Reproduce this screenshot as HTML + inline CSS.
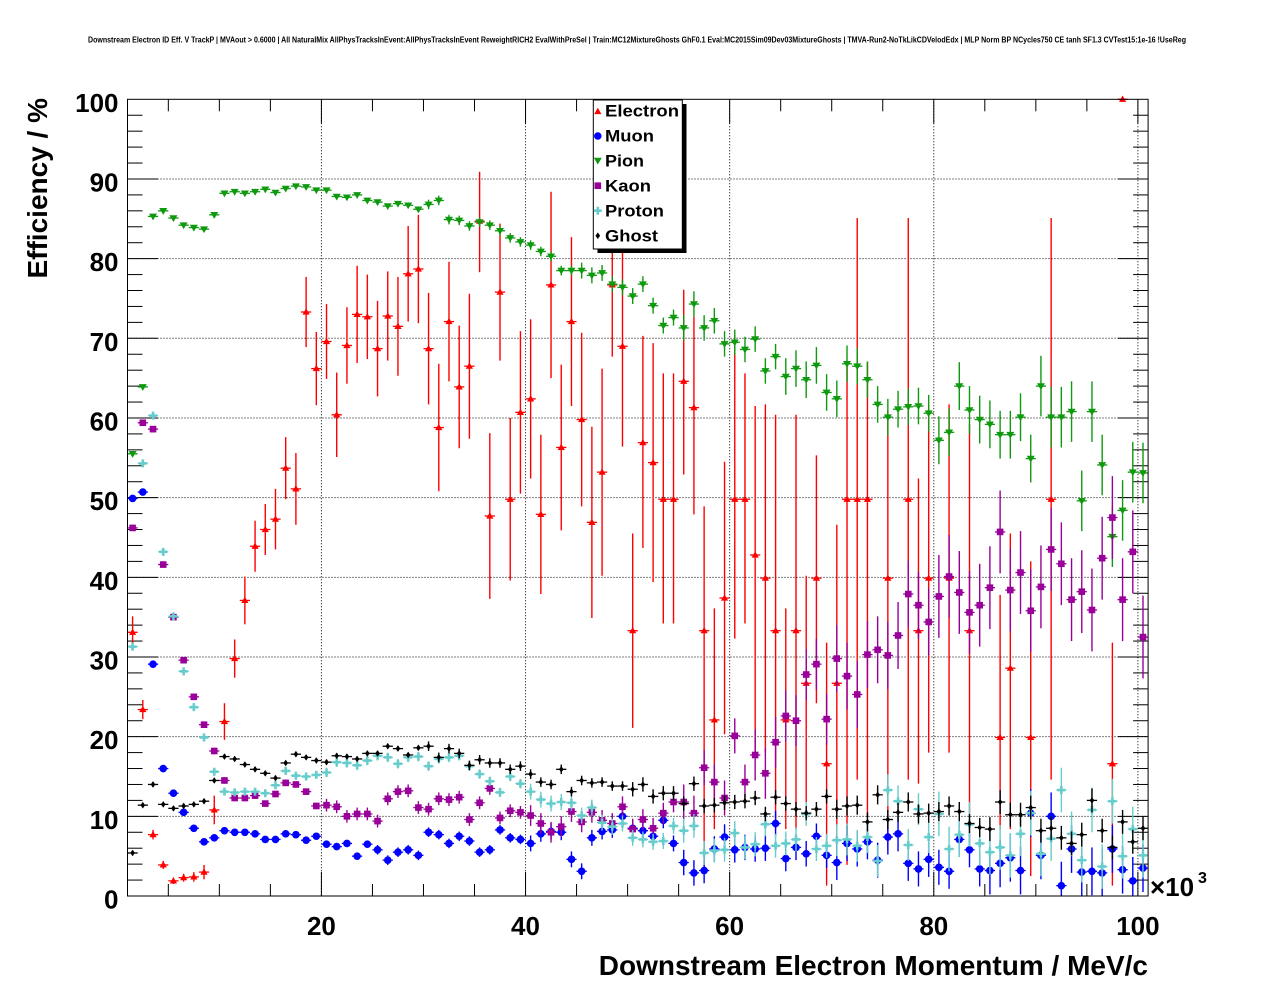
<!DOCTYPE html>
<html>
<head>
<meta charset="utf-8">
<style>
  html,body{margin:0;padding:0;background:#fff;}
  body{width:1276px;height:996px;overflow:hidden;}
  svg{display:block;}
  text{font-family:"Liberation Sans",Arial,Helvetica,sans-serif;font-weight:bold;fill:#000;}
</style>
</head>
<body>
<svg id="c" width="1276" height="996" viewBox="0 0 1276 996" xmlns="http://www.w3.org/2000/svg">
  <rect x="0" y="0" width="1276" height="996" fill="#fff"/>
  <text x="88" y="42.5" font-size="8" textLength="1098" lengthAdjust="spacingAndGlyphs">Downstream Electron ID Eff. V TrackP | MVAout &gt; 0.6000 | All NaturalMix AllPhysTracksInEvent:AllPhysTracksInEvent ReweightRICH2 EvalWithPreSel | Train:MC12MixtureGhosts GhF0.1 Eval:MC2015Sim09Dev03MixtureGhosts | TMVA-Run2-NoTkLikCDVelodEdx | MLP Norm BP NCycles750 CE tanh SF1.3 CVTest15:1e-16 !UseReg</text>

  <g id="grid" stroke="#000" stroke-width="1" stroke-dasharray="1 2" fill="none"></g>
  <g id="ticks" stroke="#000" stroke-width="1" fill="none"></g>
  <g id="data"></g>
  <rect x="127.5" y="99.3" width="1020.6" height="796.7" fill="none" stroke="#000" stroke-width="1"/>

  <!-- Y tick labels -->
  <g font-size="26" text-anchor="end">
    <text x="118.5" y="908.5">0</text>
    <text x="118.5" y="828.8">10</text>
    <text x="118.5" y="749.2">20</text>
    <text x="118.5" y="669.5">30</text>
    <text x="118.5" y="589.8">40</text>
    <text x="118.5" y="510.2">50</text>
    <text x="118.5" y="430.5">60</text>
    <text x="118.5" y="350.8">70</text>
    <text x="118.5" y="271.1">80</text>
    <text x="118.5" y="191.5">90</text>
    <text x="118.5" y="111.8">100</text>
  </g>
  <!-- X tick labels -->
  <g font-size="26" text-anchor="middle">
    <text x="321.4" y="935">20</text>
    <text x="525.5" y="935">40</text>
    <text x="729.6" y="935">60</text>
    <text x="933.8" y="935">80</text>
    <text x="1137.9" y="935">100</text>
  </g>
  <text x="1150" y="896" font-size="26">×10</text>
  <text x="1198" y="883" font-size="16">3</text>

  <text x="1148" y="975" font-size="28" text-anchor="end">Downstream Electron Momentum / MeV/c</text>
  <text transform="translate(47,98) rotate(-90)" font-size="28" text-anchor="end">Efficiency / %</text>

  <!-- Legend -->
  <rect x="597.5" y="104" width="89" height="149" fill="#000"/>
  <rect x="593.3" y="100" width="89" height="149" fill="#fff" stroke="#000" stroke-width="1"/>
  <g id="legmk"></g>
  <g font-size="17">
    <text x="605" y="116.7" textLength="74" lengthAdjust="spacingAndGlyphs">Electron</text>
    <text x="605" y="141.7" textLength="49" lengthAdjust="spacingAndGlyphs">Muon</text>
    <text x="605" y="166.7" textLength="39" lengthAdjust="spacingAndGlyphs">Pion</text>
    <text x="605" y="191.7" textLength="46" lengthAdjust="spacingAndGlyphs">Kaon</text>
    <text x="605" y="216.7" textLength="59" lengthAdjust="spacingAndGlyphs">Proton</text>
    <text x="605" y="241.7" textLength="53" lengthAdjust="spacingAndGlyphs">Ghost</text>
  </g>
</svg>
<script>
(function(){
  var X=function(v){return 127.5+(v-1)*10.206;};
  var Y=function(v){return 896-v*7.967;};
  var i,s;
  // grid
  s='';
  for(i=10;i<=90;i+=10){s+='<line x1="127.5" y1="'+Y(i)+'" x2="1148.1" y2="'+Y(i)+'"/>';}
  for(i=20;i<=100;i+=20){s+='<line x1="'+X(i)+'" y1="99.3" x2="'+X(i)+'" y2="896"/>';}
  document.getElementById('grid').innerHTML=s;
  // ticks
  s='';
  for(i=2;i<100;i+=2){var L=(i%10===0)?30:15;var y=Y(i);
    s+='<line x1="127.5" y1="'+y+'" x2="'+(127.5+L)+'" y2="'+y+'"/>';
    s+='<line x1="'+(1148.1-L)+'" y1="'+y+'" x2="1148.1" y2="'+y+'"/>';}
  for(i=5;i<=100;i+=5){var L2=(i%20===0)?24:12;var x=X(i);
    s+='<line x1="'+x+'" y1="896" x2="'+x+'" y2="'+(896-L2)+'"/>';
    s+='<line x1="'+x+'" y1="99.3" x2="'+x+'" y2="'+(99.3+L2)+'"/>';}
  document.getElementById('ticks').innerHTML=s;

  function mk(type,x,y,c){
    switch(type){
      case 'tu': return '<path d="M'+(x-3.6)+','+(y+2.6)+'L'+(x+3.6)+','+(y+2.6)+'L'+x+','+(y-3.8)+'Z" fill="'+c+'"/>';
      case 'td': return '<path d="M'+(x-4)+','+(y-2.8)+'L'+(x+4)+','+(y-2.8)+'L'+x+','+(y+4)+'Z" fill="'+c+'"/>';
      case 'ci': return '<circle cx="'+x+'" cy="'+y+'" r="3.8" fill="'+c+'"/>';
      case 'sq': return '<rect x="'+(x-3.3)+'" y="'+(y-3.3)+'" width="6.6" height="6.6" fill="'+c+'"/>';
      case 'cr': return '<path d="M'+(x-1.3)+','+(y-4)+'h2.6v2.7h2.7v2.6h-2.7v2.7h-2.6v-2.7h-2.7v-2.6h2.7z" fill="'+c+'"/>';
      case 'di': return '<path d="M'+x+','+(y-3.3)+'L'+(x+2.3)+','+y+'L'+x+','+(y+3.3)+'L'+(x-2.3)+','+y+'Z" fill="'+c+'"/>';
    }
    return '';
  }
  function series(vals,errf,type,c){
    var out='';
    for(var k=1;k<=vals.length;k++){
      var d=vals[k-1]; if(d===null||d===undefined) continue;
      var v,hi,lo;
      if(Array.isArray(d)){ v=d[0]; if(d.length===3){hi=d[1];lo=d[2];} else {hi=v+d[1];lo=v-d[1];} }
      else { v=d; var e=errf(k,v); hi=v+e; lo=v-e; }
      if(hi>100) hi=100; if(lo<0) lo=0;
      var xc=X(k+0.5), yc=Y(v);
      out+='<line x1="'+X(k)+'" y1="'+yc+'" x2="'+X(k+1)+'" y2="'+yc+'" stroke="'+c+'" stroke-width="1.3"/>';
      if(hi-lo>0.2) out+='<line x1="'+xc+'" y1="'+Y(hi)+'" x2="'+xc+'" y2="'+Y(lo)+'" stroke="'+c+'" stroke-width="1.4"/>';
      out+=mk(type,xc,yc,c);
    }
    return out;
  }
  var N=null;
  var E=[[33.1,2.0],[23.4,1.2],[7.7,0.6],[3.9,0.5],[1.9,0.4],[2.3,0.5],[2.4,0.6],[3.0,0.9],[10.8,1.8],[21.9,2.3],
  [29.8,2.4],[37.1,3],[43.9,3.2],[46.0,3.2],[47.3,3.8],[53.7,3.9],[51.1,4.5],[73.3,4.4],[66.2,4.6],[69.6,4.7],
  [60.4,5.3],[69.1,4.8],[73.0,6.1],[72.7,5.3],[68.7,6],[72.8,5.6],[71.5,6.2],[78.1,6],[78.7,6.8],[68.7,7],
  [58.8,8],[72.1,7.5],[63.9,7.7],[66.5,9.1],[84.7,90.9,78.3],[47.7,10.4],[75.8,8.6],[49.8,10.2],[60.7,10.2],[62.4,10],
  [47.9,10],[76.7,88.4,65],[56.3,10.4],[72.1,10.6],[59.8,10.9],[46.9,12],[53.2,13],[76.7,9],[69.0,12.6],[33.3,12.2],
  [56.9,70.3,43.7],[54.4,69.4,39.4],[49.8,65.6,34.2],[49.8,65.6,34.2],[64.6,76.1,52.9],[61.3,72.7,47.9],[33.3,48.9,2.9],[22.1,36.1,8.4],[37.4,54.5,20.3],[49.8,70.4,32.3],
  [49.8,65.6,34.2],[42.8,61.5,18.0],[39.9,61.7,18.0],[33.3,60.4,8.4],[22.1,36.1,8.4],[33.3,60.4,8.4],[26.7,40.2,11.6],[39.9,55.3,24.2],[16.6,31.8,1.3],[26.7,46.6,5.1],
  [49.8,67.0,3.9],[49.8,85.1,14.6],[49.8,67.0,10],N,[39.9,61.0,5.8],N,[49.8,85.1,14.6],[33.3,52.4,14.1],[39.9,61.6,18.0],N,
  [39.9,61.7,18.0],N,[33.3,59.2,10.3],N,N,[19.9,37.8,8.4],[28.6,45.5,8.4],N,[19.9,42,2.5],N,
  [49.8,85.1,14.6],N,N,N,N,N,[16.6,31.8,1.3],[100,100,100],N,N];
  var MU=[49.9,50.7,29.1,16.0,12.9,10.5,8.5,6.8,7.3,8.2,8.0,8.0,7.8,7.1,7.1,7.8,7.7,7.0,7.5,6.5,
  6.2,6.6,5.0,6.5,5.8,4.5,5.5,5.8,5.1,8.0,7.7,6.6,7.5,6.9,5.5,5.8,8.3,7.3,7.1,6.6,
  7.8,8.1,8.0,4.6,3.1,7.3,8.1,8.3,10.0,8.5,8.2,7.5,9.5,6.6,4.2,2.9,3.2,5.9,7.4,5.8,
  6.1,5.9,6.0,9.1,4.7,6.1,5.3,7.5,5.1,4.2,6.6,5.9,6.8,4.5,7.4,7.8,4.1,3.4,4.6,3.6,
  3.1,7.1,5.8,3.4,3.2,4.1,4.8,3.2,10.4,5.1,10.0,1.3,5.9,3.0,3.1,2.9,5.9,3.3,1.9,3.5];
  var PI=[55.5,63.9,85.3,86.0,85.1,84.2,83.9,83.7,85.5,88.2,88.4,88.2,88.4,88.7,88.3,88.8,89.1,89.0,88.6,88.6,
  87.8,87.7,88.0,87.3,87.1,86.6,86.9,86.7,86.2,86.8,87.3,84.9,84.8,84.1,84.6,84.2,83.5,82.6,82.1,81.7,
  80.9,80.3,78.5,78.5,78.5,77.9,78.2,76.8,76.4,75.3,76.8,74.1,71.6,72.6,71.3,74.3,71.3,72.2,69.3,69.5,
  68.6,69.9,65.9,67.7,65.2,66.2,64.8,66.6,63.2,62.4,66.8,66.5,64.8,61.7,60.1,61.1,61.4,61.5,60.6,57.2,
  58.2,64.0,61.0,59.8,59.2,57.9,57.9,60.1,54.9,64.0,60.1,60.1,60.8,49.6,60.8,54.1,45.1,48.4,53.2,53.1];
  var KA=[46.2,59.4,58.6,41.6,35.0,29.6,25.0,21.5,18.2,14.5,12.3,12.3,12.6,11.6,12.8,14.2,14.0,13.1,11.3,11.4,
  11.2,10.0,10.3,10.3,9.4,12.2,13.1,13.2,11.1,10.9,12.2,12.1,12.4,9.6,11.7,13.5,9.8,10.7,10.5,10.1,
  9.1,8.0,8.7,10.6,9.3,10.5,9.5,9.1,11.2,8.4,9.6,8.5,10.4,11.8,11.8,10.4,16.1,14.3,12.3,20.1,
  14.3,17.7,15.4,19.3,22.6,22.0,27.8,29.1,22.2,29.8,27.6,25.3,30.3,30.9,30.2,32.7,37.9,36.5,34.4,37.6,
  40.1,38.1,35.6,36.5,38.7,45.7,38.4,40.6,35.8,38.8,43.5,41.7,37.2,38.2,35.9,42.4,47.5,37.2,43.2,32.5];
  var PR=[31.3,54.3,60.3,43.2,35.1,28.2,23.7,19.9,15.6,13.1,13.0,13.1,13.1,12.9,13.9,15.7,15.1,15.0,15.2,15.5,
  16.8,16.7,16.4,17.0,17.6,17.4,16.6,17.4,17.5,16.3,17.2,17.4,17.6,16.3,15.3,14.4,13.0,15.0,14.1,13.1,
  12.1,11.6,11.8,11.7,10.1,11.1,9.2,8.7,9.1,7.3,7.1,6.8,6.9,8.8,8.2,8.8,5.4,5.7,5.8,7.9,
  6.1,6.5,9.0,6.3,6.6,7.1,10.3,5.9,6.3,7.0,7.1,6.3,7.4,4.4,13.3,11.9,6.4,10.9,7.4,10.3,
  5.9,7.7,9.0,6.6,5.5,6.1,5.1,7.8,10.4,5.3,7.2,13.3,7.8,4.5,10.8,3.7,11.9,5.0,8.4,5.1];
  var GH=[5.4,11.4,14.0,11.5,11.0,11.3,11.5,11.9,14.5,17.5,17.2,16.5,15.9,15.4,14.8,16.7,17.8,17.4,17.0,16.8,
  17.6,17.5,17.2,17.9,17.9,18.8,18.5,17.7,18.6,18.8,17.4,18.5,17.9,16.4,17.1,16.7,16.7,15.9,16.3,15.3,
  14.3,14.0,15.9,13.1,14.5,14.2,14.3,13.8,13.8,13.4,14.0,12.5,12.9,12.9,11.6,14.1,11.3,11.4,11.7,11.8,
  11.9,12.3,10.3,12.4,11.6,10.9,10.4,10.9,12.5,10.9,11.3,11.4,9.3,12.7,9.6,10.5,11.8,10.3,10.4,10.6,
  11.3,10.6,9.1,8.6,8.4,11.8,10.2,10.2,11.1,8.2,8.5,7.3,6.6,7.7,12.0,8.2,6.1,9.3,6.8,8.5];

  var ePi=function(k){return k<30?0.3:k<45?0.6:k<55?1.0:k<65?1.6:k<80?2.3:k<90?3.0:3.8;};
  var eMu=function(k){return k<25?0.2:k<40?0.6:k<55?1.0:k<70?1.6:k<85?2.2:3.0;};
  var eKa=function(k){return k<20?0.4:k<40?0.8:k<55?1.3:k<62?2.2:k<70?3.2:k<80?4.2:5.2;};
  var ePr=function(k){return k<20?0.3:k<40?0.6:k<55?1.0:k<70?1.5:k<80?2.0:2.8;};
  var eGh=function(k){return k<30?0.3:k<50?0.6:k<70?0.9:k<85?1.2:1.5;};

  s='';
  s+=series(E,null,'tu','#ff0000');
  s+=series(MU,eMu,'ci','#0000ff');
  s+=series(PI,ePi,'td','#0f990f');
  s+=series(KA,eKa,'sq','#990099');
  s+=series(PR,ePr,'cr','#66cccc');
  s+=series(GH,eGh,'di','#000000');
  document.getElementById('data').innerHTML=s;

  // legend markers
  var lx=597.8;
  s='';
  s+=mk('tu',lx,111.5,'#ff0000');
  s+=mk('ci',lx,136,'#0000ff');
  s+=mk('td',lx,160.5,'#0f990f');
  s+=mk('sq',lx,185.7,'#990099');
  s+=mk('cr',lx,210.7,'#66cccc');
  s+=mk('di',lx,235.7,'#000000');
  document.getElementById('legmk').innerHTML=s;
})();
</script>
</body>
</html>
